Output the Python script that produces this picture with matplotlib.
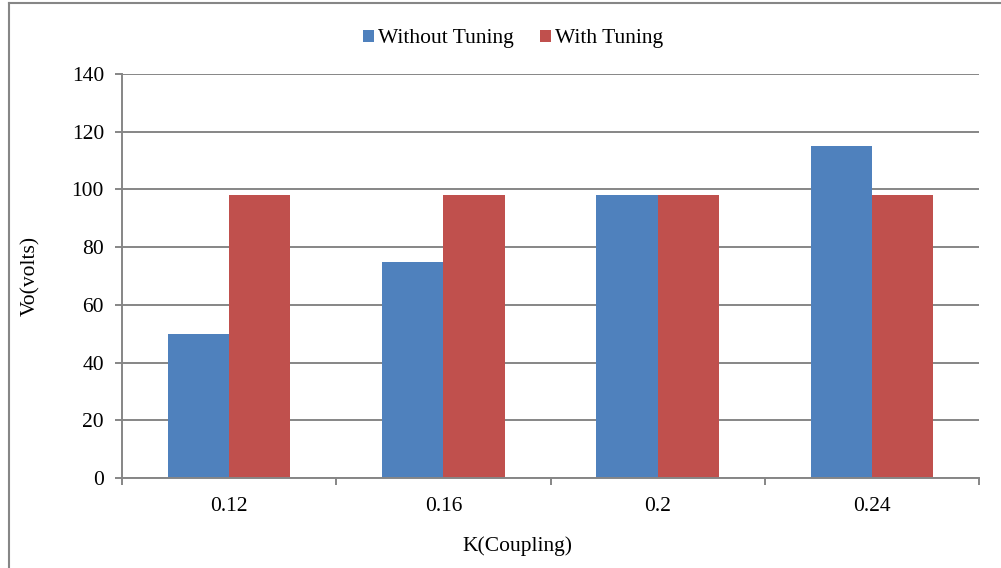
import matplotlib
matplotlib.use("Agg")
import matplotlib.pyplot as plt
import numpy as np
from matplotlib.lines import Line2D

plt.rcParams['font.family'] = ['Liberation Serif', 'DejaVu Serif']

# coupling values and output voltages
coupling = ['0.12', '0.16', '0.2', '0.24']
without_tuning = [50, 75, 98, 115]
with_tuning = [98, 98, 98, 98]

W, H = 1001, 568
fig = plt.figure(figsize=(W / 100, H / 100), dpi=100)
grey = '#868686'
fs = 15.5

# chart border (left and top edges)
fig.add_artist(Line2D([8.5 / W, 8.5 / W], [0, 1 - 2.5 / H], color=grey, lw=1.5, transform=fig.transFigure))
fig.add_artist(Line2D([8.5 / W, 1], [1 - 2.5 / H, 1 - 2.5 / H], color=grey, lw=1.5, transform=fig.transFigure))

ax = fig.add_axes([122 / W, (H - 478) / H, (979 - 122) / W, (478 - 74) / H])

x = np.arange(len(coupling))
bw = 1 / 3.5
b1 = ax.bar(x - bw / 2, without_tuning, bw, color='#4F81BD', label='Without Tuning', zorder=3)
b2 = ax.bar(x + bw / 2, with_tuning, bw, color='#C0504D', label='With Tuning', zorder=3)

ax.set_xlim(-0.5, len(coupling) - 0.5)
ax.set_ylim(0, 140)
ax.set_yticks(range(0, 141, 20))
ax.yaxis.grid(True, color=grey, lw=1.4, zorder=0)

ax.set_xticks(x)
ax.set_xticklabels(coupling)
ax.set_xticks(np.arange(-0.5, len(coupling), 1), minor=True)
ax.tick_params(axis='x', which='major', length=0, pad=14, labelsize=fs)
ax.tick_params(axis='x', which='minor', length=5, width=1.4, color=grey, direction='out')
ax.tick_params(axis='y', length=5, width=1.4, color=grey, pad=8, labelsize=fs)

for s in ['top', 'right']:
    ax.spines[s].set_visible(False)
for s in ['left', 'bottom']:
    ax.spines[s].set_color(grey)
    ax.spines[s].set_linewidth(1.4)
    ax.spines[s].set_zorder(4)

fig.text(517 / W, 1 - 546 / H, 'K(Coupling)', ha='center', va='center', fontsize=fs)
fig.text(31 / W, 1 - 276 / H, 'Vo(volts)', ha='center', va='center', rotation=90, fontsize=fs)

fig.legend(handles=[b1, b2], loc='center', bbox_to_anchor=(513 / W, 1 - 39 / H), ncol=2,
           frameon=False, fontsize=fs, handlelength=0.52, handleheight=0.52,
           handletextpad=0.2, columnspacing=1.2)

fig.savefig('out.png', dpi=100)
